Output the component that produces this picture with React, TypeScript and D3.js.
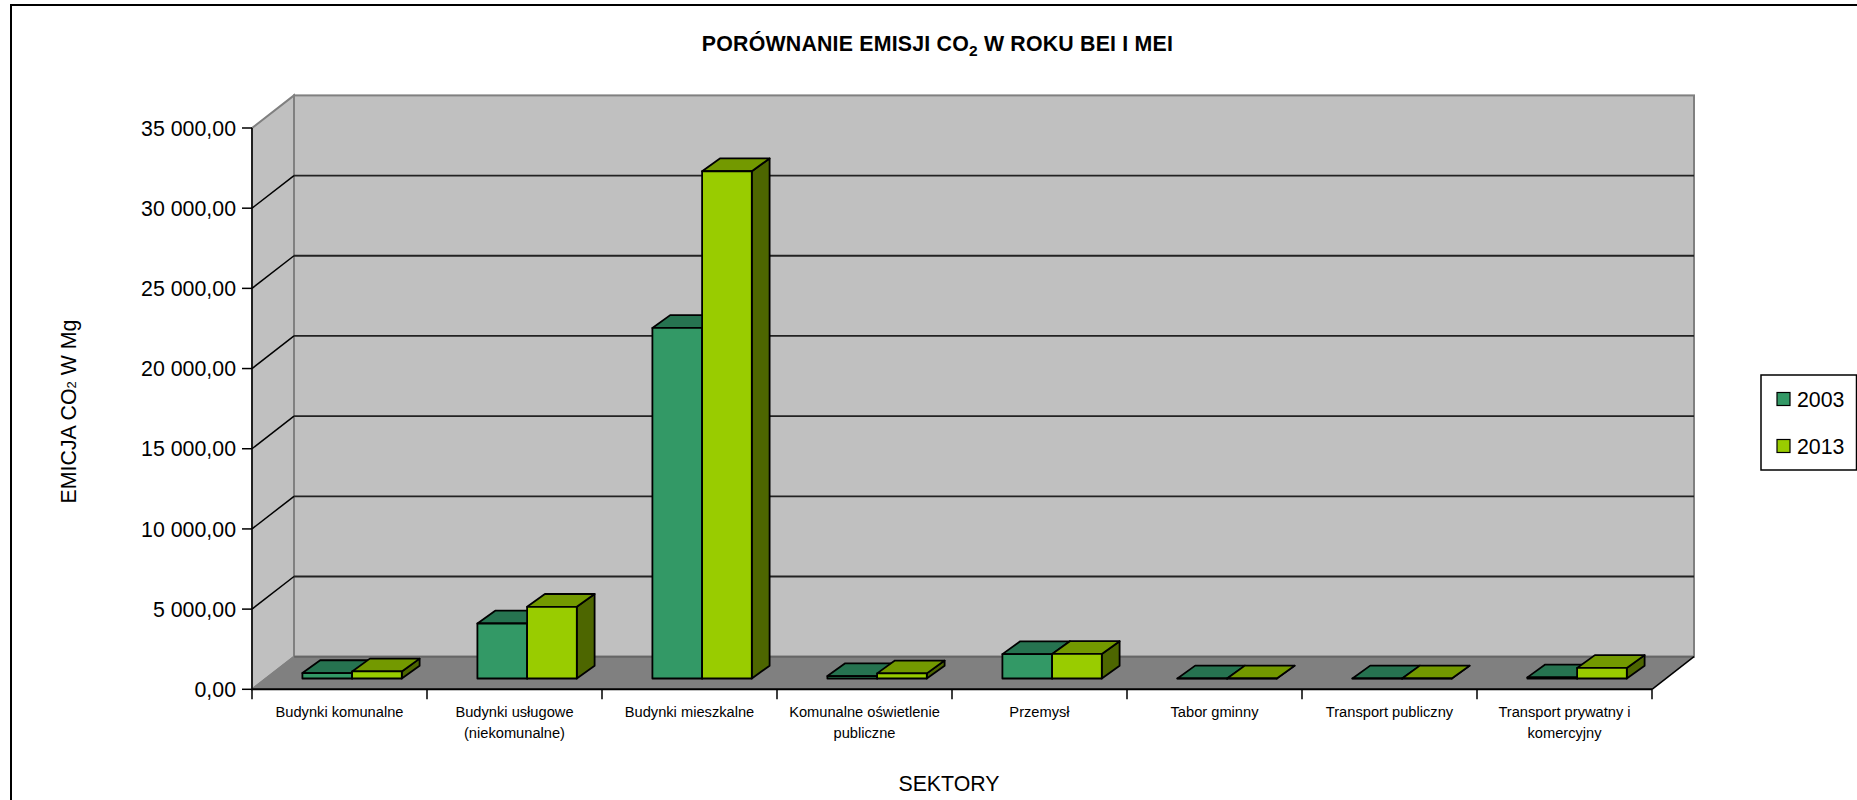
import React from "react";
import * as d3 from "d3";

const categories = [
  ["Budynki komunalne"],
  ["Budynki usługowe", "(niekomunalne)"],
  ["Budynki mieszkalne"],
  ["Komunalne oświetlenie", "publiczne"],
  ["Przemysł"],
  ["Tabor gminny"],
  ["Transport publiczny"],
  ["Transport prywatny i", "komercyjny"],
];
const values2003 = [340, 3430, 21860, 150, 1520, 5, 5, 70];
const values2013 = [440, 4470, 31630, 320, 1530, 5, 5, 660];
const seriesNames = ["2003", "2013"];
const yTicks = [0, 5000, 10000, 15000, 20000, 25000, 30000, 35000];

const FONT = "'Liberation Sans', Arial, sans-serif";
const x0 = 252, x1 = 1652, yBottom = 689.3, yTop = 128;
const depthX = 42, depthY = 32.6;
const barW = 49.7, barDX = 17.8, barDY = 12.8;
const baseLift = 10.8, baseShift = 13.6;

const yScale = d3.scaleLinear().domain([0, 35000]).range([yBottom, yTop]);
const xScale = d3.scaleBand<number>().domain(categories.map((_, i) => i)).range([x0, x1]);
const fmt = d3.formatLocale({ decimal: ",", thousands: " ", grouping: [3], currency: ["", ""] }).format(",.2f");

const palettes = [
  { front: "#339966", top: "#267350", side: "#1a4d33" },
  { front: "#99cc00", top: "#739900", side: "#4d6600" },
];

const poly = (pts: number[][]) => pts.map((p) => p.join(",")).join(" ");

function Bar({ x, value, pal }: { x: number; value: number; pal: (typeof palettes)[number] }) {
  const yb = yBottom - baseLift;
  const h = yScale(0) - yScale(value);
  const yt = yb - h;
  const st = { stroke: "#000", strokeWidth: 1.8, strokeLinejoin: "round" as const };
  return (
    <g>
      <polygon points={poly([[x + barW, yb], [x + barW + barDX, yb - barDY], [x + barW + barDX, yt - barDY], [x + barW, yt]])} fill={pal.side} {...st} />
      <polygon points={poly([[x, yt], [x + barDX, yt - barDY], [x + barW + barDX, yt - barDY], [x + barW, yt]])} fill={pal.top} {...st} />
      <rect x={x} y={yt} width={barW} height={h} fill={pal.front} {...st} />
    </g>
  );
}

export default function App() {
  const bw = xScale.bandwidth();
  return (
    <svg width={1857} height={800} style={{ position: "absolute", left: 0, top: 0, display: "block", background: "#fff" }} fontFamily={FONT}>
      <path d="M11 800V5H1857" fill="none" stroke="#000" strokeWidth={2} />

      <text x={937.5} y={50.5} textAnchor="middle" fontSize={21.33} fontWeight="bold" fill="#000" letterSpacing={0.2}>
        PORÓWNANIE EMISJI CO<tspan fontSize={15.5} dy={5}>2</tspan><tspan dy={-5}> W ROKU BEI I MEI</tspan>
      </text>

      {/* walls */}
      <polygon points={poly([[x0, yTop], [x0 + depthX, yTop - depthY], [x0 + depthX, yBottom - depthY], [x0, yBottom]])} fill="#c0c0c0" stroke="#808080" strokeWidth={2} />
      <rect x={x0 + depthX} y={yTop - depthY} width={x1 - x0} height={yBottom - yTop} fill="#c0c0c0" stroke="#808080" strokeWidth={2} />
      <polygon points={poly([[x0, yBottom], [x0 + depthX, yBottom - depthY], [x1 + depthX, yBottom - depthY], [x1, yBottom]])} fill="#808080" />
      <line x1={x0 + depthX} x2={x1 + depthX} y1={yBottom - depthY} y2={yBottom - depthY} stroke="#666" strokeWidth={2} />
      <line x1={x1} x2={x1 + depthX} y1={yBottom} y2={yBottom - depthY} stroke="#000" strokeWidth={1.5} />
      <line x1={x0} x2={x0 + depthX} y1={yBottom} y2={yBottom - depthY} stroke="#808080" strokeWidth={1.5} />

      {/* gridlines */}
      {yTicks.slice(1, -1).map((t) => (
        <g key={t}>
          <line x1={x0} y1={yScale(t)} x2={x0 + depthX} y2={yScale(t) - depthY} stroke="#000" strokeWidth={1.5} />
          <line x1={x0 + depthX} y1={yScale(t) - depthY} x2={x1 + depthX} y2={yScale(t) - depthY} stroke="#222" strokeWidth={1.8} />
        </g>
      ))}

      {/* axes */}
      <line x1={x0} x2={x0} y1={yTop} y2={yBottom} stroke="#000" strokeWidth={1.5} />
      <line x1={x0} x2={x1} y1={yBottom} y2={yBottom} stroke="#000" strokeWidth={2} />
      {yTicks.map((t) => (
        <g key={t}>
          <line x1={x0 - 10} x2={x0} y1={yScale(t)} y2={yScale(t)} stroke="#000" strokeWidth={1.5} />
          <text x={x0 - 16} y={yScale(t) + 7.7} textAnchor="end" fontSize={21.33} fill="#000">{fmt(t)}</text>
        </g>
      ))}
      {[...categories.map((_, i) => xScale(i)!), x1].map((x, i) => (
        <line key={i} x1={x} x2={x} y1={yBottom} y2={yBottom + 10} stroke="#000" strokeWidth={1.5} />
      ))}
      {categories.map((lines, i) =>
        lines.map((l, j) => (
          <text key={l} x={xScale(i)! + bw / 2} y={716.7 + j * 21} textAnchor="middle" fontSize={14.67} fill="#000">{l}</text>
        ))
      )}

      {/* bars */}
      {categories.map((_, i) => {
        const gx = xScale(i)! + (bw - 2 * barW) / 2 + baseShift - 1;
        return (
          <g key={i}>
            <Bar x={gx} value={values2003[i]} pal={palettes[0]} />
            <Bar x={gx + barW} value={values2013[i]} pal={palettes[1]} />
          </g>
        );
      })}

      <text transform="translate(76,411.5) rotate(-90)" textAnchor="middle" fontSize={21.33} fill="#000">
        EMICJA CO<tspan fontSize={13}>2</tspan> W Mg
      </text>
      <text x={949} y={790.7} textAnchor="middle" fontSize={21.33} fill="#000">SEKTORY</text>

      {/* legend */}
      <rect x={1761} y={375} width={95.5} height={95} fill="#fff" stroke="#000" strokeWidth={1.5} />
      {seriesNames.map((s, i) => (
        <g key={s}>
          <rect x={1777} y={392.5 + i * 47} width={13} height={13} fill={palettes[i].front} stroke="#000" strokeWidth={1.2} />
          <text x={1797} y={406.5 + i * 47} fontSize={21.33} fill="#000">{s}</text>
        </g>
      ))}
    </svg>
  );
}
